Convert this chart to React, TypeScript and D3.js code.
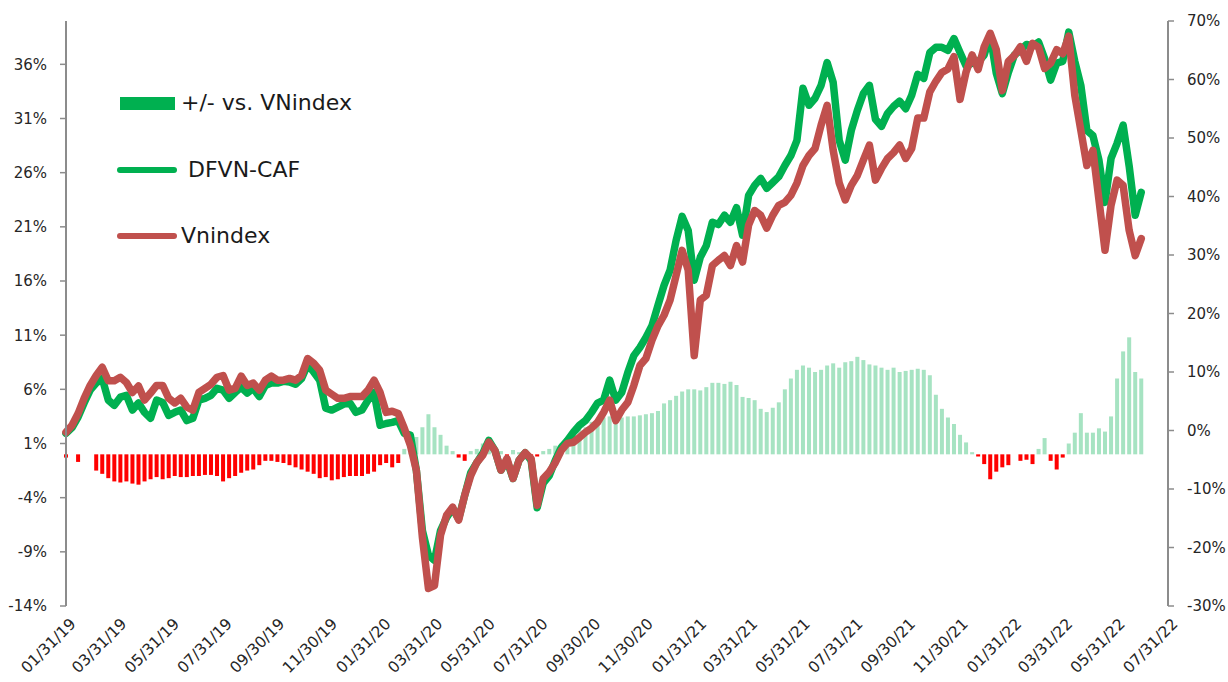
import React from 'react';
import * as d3 from 'd3';

// weekly observations starting 01/31/19
const startDate = '2019-01-31';

// DFVN-CAF cumulative return, % (right axis)
const dfvn = [
  -0.5, 0.5, 2.3, 4.7, 6.9, 8.1, 8.9, 5.2, 4.3, 5.7,
  6.0, 3.5, 4.7, 3.1, 2.1, 5.2, 4.8, 2.6, 3.1, 3.5,
  1.7, 2.1, 5.2, 5.5, 6.0, 7.2, 6.9, 5.5, 6.5, 7.4,
  6.4, 7.2, 5.8, 7.7, 8.1, 8.1, 8.4, 8.3, 7.9, 8.9,
  11.3, 10.0, 8.6, 3.8, 3.5, 4.0, 4.5, 4.7, 3.1, 3.5,
  5.2, 6.5, 0.9, 1.2, 1.4, 1.7, -0.5, -0.8, -6.8, -17.1,
  -21.3, -22.2, -17.1, -14.9, -13.3, -15.1, -11.1, -7.2, -5.5, -3.9,
  -1.7, -3.4, -6.8, -5.1, -8.2, -5.1, -3.8, -5.1, -13.2, -9.0,
  -7.7, -5.1, -2.9, -1.7, -0.3, 0.9, 1.7, 3.1, 4.7, 5.2,
  8.6, 5.2, 6.5, 9.9, 12.8, 14.2, 15.9, 17.9, 21.4, 24.8,
  27.4, 32.5, 36.6, 34.2, 25.7, 29.6, 31.6, 35.6, 35.2, 36.8,
  35.6, 38.1, 33.4, 40.2, 41.9, 43.1, 41.4, 42.4, 43.4, 45.3,
  47.0, 49.6, 58.5, 55.6, 56.8, 59.0, 62.9, 59.5, 49.6, 46.2,
  51.3, 54.7, 57.6, 59.0, 53.2, 52.0, 54.2, 55.4, 56.3, 55.0,
  57.3, 60.9, 60.2, 64.6, 65.5, 65.5, 65.0, 67.0, 64.6, 62.3,
  62.8, 63.0, 64.2, 67.6, 61.1, 57.6, 61.2, 64.2, 65.0, 66.0,
  65.7, 66.4, 63.6, 59.9, 62.8, 63.1, 68.1, 63.1, 59.0, 51.3,
  50.4, 46.2, 39.0, 46.5, 49.1, 52.2, 45.2, 36.8, 40.7,
];

// Vnindex cumulative return, % (right axis)
const vnindex = [
  -0.3, 0.9, 2.9, 5.5, 7.7, 9.4, 10.8, 8.5, 8.5, 9.1,
  8.2, 6.5, 7.6, 5.2, 6.4, 7.7, 7.7, 5.5, 4.7, 5.5,
  4.0, 3.5, 6.5, 7.2, 7.9, 9.1, 9.4, 6.9, 7.2, 9.3,
  7.7, 8.1, 6.9, 8.6, 9.3, 8.6, 8.6, 8.9, 8.6, 9.4,
  12.3, 11.5, 10.3, 6.9, 6.2, 5.5, 5.5, 5.8, 5.8, 5.8,
  6.9, 8.6, 6.5, 3.1, 3.3, 2.9, 0.4, -2.5, -6.8, -18.3,
  -27.0, -26.5, -17.9, -14.5, -13.1, -15.3, -11.1, -7.7, -5.5, -4.2,
  -2.0, -3.4, -6.8, -4.8, -8.2, -5.1, -3.8, -4.8, -12.8, -8.2,
  -7.1, -5.5, -3.4, -2.2, -2.0, -1.2, -0.3, 0.4, 1.4, 3.1,
  5.2, 1.7, 3.5, 4.8, 7.7, 11.1, 12.3, 15.4, 17.9, 19.7,
  22.3, 26.5, 30.8, 27.4, 12.8, 22.3, 23.1, 28.2, 29.1, 29.9,
  28.2, 31.6, 28.8, 35.1, 37.6, 36.8, 34.6, 36.8, 38.5, 39.0,
  40.2, 42.3, 45.3, 47.0, 48.2, 52.2, 55.6, 47.9, 42.3, 39.4,
  41.9, 43.6, 46.2, 48.8, 42.8, 44.8, 46.5, 47.5, 48.8, 46.5,
  48.2, 53.4, 53.4, 57.9, 59.7, 61.2, 61.8, 63.9, 56.6, 61.3,
  64.2, 61.7, 65.6, 67.9, 65.1, 58.1, 63.1, 64.1, 65.6, 63.1,
  66.2, 65.5, 61.9, 62.8, 65.1, 64.4, 67.4, 57.3, 51.3, 45.3,
  47.9, 39.4, 30.8, 38.5, 42.8, 41.9, 34.2, 29.9, 32.8,
];

// +/- vs. VNindex, % (left axis)
const spread = [
  -0.3, 0, -0.7, 0, 0, -1.5, -1.8, -2.2, -2.5, -2.6,
  -2.5, -2.7, -2.8, -2.5, -2.3, -2.1, -2.3, -2.2, -2.0, -2.1,
  -2.1, -2.0, -2.0, -1.9, -1.9, -2.0, -2.5, -2.2, -2.0, -1.7,
  -1.5, -1.4, -1.0, -0.6, -0.6, -0.7, -0.8, -1.0, -1.2, -1.4,
  -1.6, -1.8, -2.2, -2.1, -2.4, -2.3, -2.1, -2.0, -2.0, -2.0,
  -1.8, -1.6, -1.0, -0.8, -1.2, -0.8, 0.5, 1.0, 1.6, 2.5,
  3.7, 2.5, 1.8, 0.8, 0.3, -0.3, -0.6, 0.3, 0.5, 1.0,
  0.4, 0.6, 0.3, -0.2, 0.4, 0.2, -0.3, -0.4, -0.2, 0.3,
  0.5, 0.8, 1.0, 1.2, 1.8, 2.3, 2.5, 3.0, 3.2, 3.4,
  3.5, 3.3, 3.4, 3.5, 3.5, 3.6, 3.7, 3.8, 4.0, 4.7,
  5.0, 5.4, 5.8, 6.0, 6.0, 5.9, 6.2, 6.6, 6.6, 6.5,
  6.7, 6.4, 5.3, 5.2, 5.0, 4.2, 3.9, 4.3, 4.8, 6.0,
  7.0, 7.8, 8.2, 8.0, 7.6, 7.8, 8.2, 8.4, 8.0, 8.5,
  8.6, 9.0, 8.7, 8.3, 8.2, 8.0, 7.8, 8.0, 7.6, 7.7,
  7.8, 7.9, 7.8, 7.3, 5.5, 4.2, 3.4, 2.8, 1.8, 1.1,
  0.2, -0.2, -0.9, -2.3, -1.6, -1.2, -1.0, 0, -0.6, -0.5,
  -0.9, 0.5, 1.5, -0.6, -1.4, -0.3, 1.0, 2.0, 3.8, 2.0,
  2.0, 2.4, 2.1, 3.5, 7.0, 9.5, 10.8, 7.6, 7.0,
];

const leftTicks = [-14, -9, -4, 1, 6, 11, 16, 21, 26, 31, 36];
const rightTicks = [-30, -20, -10, 0, 10, 20, 30, 40, 50, 60, 70];
const dateLabels = [
  '01/31/19', '03/31/19', '05/31/19', '07/31/19', '09/30/19', '11/30/19',
  '01/31/20', '03/31/20', '05/31/20', '07/31/20', '09/30/20', '11/30/20',
  '01/31/21', '03/31/21', '05/31/21', '07/31/21', '09/30/21', '11/30/21',
  '01/31/22', '03/31/22', '05/31/22', '07/31/22',
];

const GREEN = '#00b050';
const RED = '#c0504d';
const AXIS = '#8c8c8c';
const FONT = 'DejaVu Sans, Verdana, sans-serif';

const plot = { left: 66, right: 1168, top: 21, bottom: 606 };

export default function App() {
  const parseTick = d3.timeParse('%m/%d/%y');
  const start = d3.timeParse('%Y-%m-%d')(startDate) as Date;
  const dateAt = (i: number) => d3.timeDay.offset(start, 7 * i);

  const x = d3.scaleTime()
    .domain([parseTick(dateLabels[0]) as Date, parseTick(dateLabels[dateLabels.length - 1]) as Date])
    .range([plot.left, plot.right]);
  const yLeft = d3.scaleLinear().domain([-14, 40]).range([plot.bottom, plot.top]);
  const yRight = d3.scaleLinear().domain([-30, 70]).range([plot.bottom, plot.top]);

  const line = d3.line<number>()
    .x((_, i) => x(dateAt(i)))
    .y(d => yRight(d));

  const barW = 4;

  return (
    <svg width={1228} height={682} style={{ position: 'absolute', left: 0, top: 0, background: '#fff' }}
      fontFamily={FONT}>
      {/* spread bars */}
      {spread.map((v, i) => {
        const cx = x(dateAt(i));
        const y0 = yLeft(0);
        const y1 = yLeft(v);
        return (
          <rect key={'b' + i}
            x={cx - barW / 2}
            y={Math.min(y0, y1)}
            width={barW}
            height={Math.abs(y1 - y0)}
            fill={v >= 0 ? GREEN : '#ff0000'}
            fillOpacity={v >= 0 ? 0.35 : 1}
          />
        );
      })}

      {/* lines */}
      <path d={line(dfvn) || ''} fill="none" stroke={GREEN} strokeWidth={7.5}
        strokeLinejoin="round" strokeLinecap="round" />
      <path d={line(vnindex) || ''} fill="none" stroke={RED} strokeWidth={7.5}
        strokeLinejoin="round" strokeLinecap="round" />

      {/* left axis */}
      <line x1={plot.left} x2={plot.left} y1={plot.top} y2={plot.bottom} stroke={AXIS} strokeWidth={2} />
      {leftTicks.map(t => (
        <g key={'l' + t}>
          <line x1={plot.left - 6} x2={plot.left} y1={yLeft(t)} y2={yLeft(t)} stroke={AXIS} strokeWidth={1.5} />
          <text x={47} y={yLeft(t)} dy="0.36em" textAnchor="end" fontSize={15} fill="#262626">{t}%</text>
        </g>
      ))}

      {/* right axis */}
      <line x1={plot.right} x2={plot.right} y1={plot.top} y2={plot.bottom} stroke={AXIS} strokeWidth={2} />
      {rightTicks.map(t => (
        <g key={'r' + t}>
          <line x1={plot.right} x2={plot.right + 6} y1={yRight(t)} y2={yRight(t)} stroke={AXIS} strokeWidth={1.5} />
          <text x={1187} y={yRight(t)} dy="0.36em" textAnchor="start" fontSize={15} fill="#262626">{t}%</text>
        </g>
      ))}

      {/* date labels */}
      {dateLabels.map(s => {
        const tx = x(parseTick(s) as Date);
        return (
          <text key={s} transform={`translate(${tx + 3},${plot.bottom + 11}) rotate(-45)`}
            textAnchor="end" dy="0.7em" fontSize={15.5} fill="#262626">{s}</text>
        );
      })}

      {/* legend */}
      <rect x={120} y={97} width={55} height={13} fill={GREEN} />
      <text x={181} y={110} fontSize={22} fill="#1a1a1a">+/- vs. VNindex</text>
      <line x1={120} x2={174} y1={170} y2={170} stroke={GREEN} strokeWidth={6} strokeLinecap="round" />
      <text x={188} y={177} fontSize={22} fill="#1a1a1a">DFVN-CAF</text>
      <line x1={120} x2={174} y1={236} y2={236} stroke={RED} strokeWidth={6} strokeLinecap="round" />
      <text x={181} y={243} fontSize={22} fill="#1a1a1a">Vnindex</text>
    </svg>
  );
}
